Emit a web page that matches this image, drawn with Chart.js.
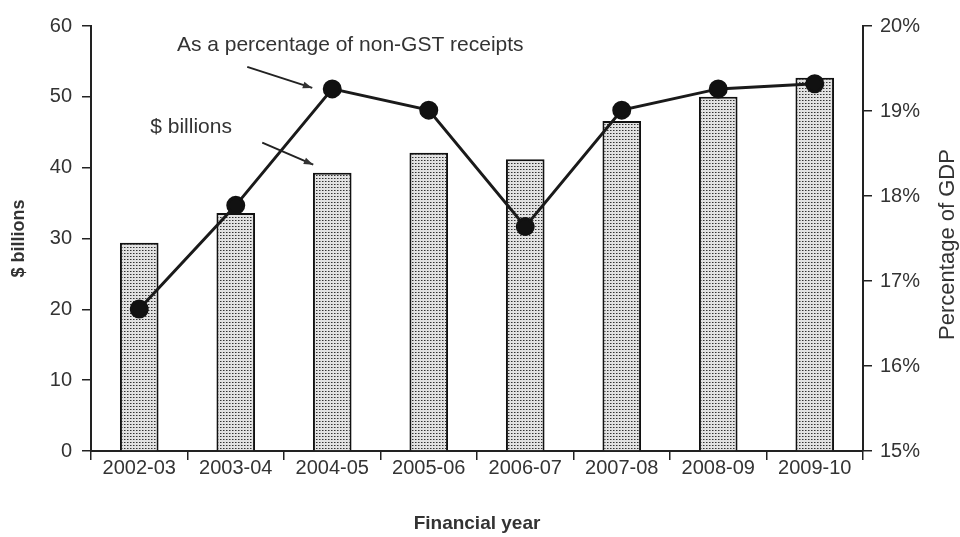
<!DOCTYPE html>
<html>
<head>
<meta charset="utf-8">
<script src="https://cdn.jsdelivr.net/npm/chart.js@4/dist/chart.umd.min.js"></script>
<style>
  html, body { margin: 0; padding: 0; background: #fff; }
  #wrap { width: 960px; height: 537px; }
</style>
</head>
<body>
<div id="wrap"><canvas id="chart" width="960" height="537"></canvas></div>
<script>
const years = ["2002-03", "2003-04", "2004-05", "2005-06", "2006-07", "2007-08", "2008-09", "2009-10"];
const billions = [29.4, 33.6, 39.3, 42.1, 41.2, 46.6, 50.0, 52.7];
const pctOfReceipts = [16.67, 17.89, 19.26, 19.01, 17.64, 19.01, 19.26, 19.32];
const leftTicks = [0, 10, 20, 30, 40, 50, 60];
const rightTicks = [15, 16, 17, 18, 19, 20];

const FONT = "'Liberation Sans', Arial, sans-serif";
const TEXT = "#333";

// speckled fill like the printed bars
function dotPattern() {
  const tile = document.createElement("canvas");
  tile.width = 3;
  tile.height = 3;
  const c = tile.getContext("2d");
  c.fillStyle = "#e2e2e2";
  c.fillRect(0, 0, 3, 3);
  c.fillStyle = "#333";
  c.fillRect(1, 1, 1, 1);
  c.fillStyle = "#8a8a8a";
  c.fillRect(2, 1, 1, 1);
  return document.getElementById("chart").getContext("2d").createPattern(tile, "repeat");
}

function arrow(ctx, x1, y1, x2, y2) {
  const a = Math.atan2(y2 - y1, x2 - x1);
  ctx.beginPath();
  ctx.moveTo(x1, y1);
  ctx.lineTo(x2, y2);
  ctx.stroke();
  ctx.beginPath();
  ctx.moveTo(x2, y2);
  ctx.lineTo(x2 - 10 * Math.cos(a - 0.35), y2 - 10 * Math.sin(a - 0.35));
  ctx.lineTo(x2 - 10 * Math.cos(a + 0.35), y2 - 10 * Math.sin(a + 0.35));
  ctx.closePath();
  ctx.fill();
}

const notes = {
  id: "notes",
  afterDraw(chart) {
    const { ctx, scales } = chart;
    const x = scales.x;
    const yL = scales.yL;
    const yR = scales.yR;
    ctx.save();
    ctx.fillStyle = TEXT;
    ctx.strokeStyle = "#222";
    ctx.lineWidth = 2;
    ctx.font = "21px " + FONT;
    ctx.textBaseline = "middle";
    // line label, pointing at the 2004-05 point
    const px = x.getPixelForValue(2);
    const py = yR.getPixelForValue(pctOfReceipts[2]);
    ctx.textAlign = "center";
    ctx.fillText("As a percentage of non-GST receipts", px + 18, py - 44);
    arrow(ctx, px - 85, py - 22, px - 20, py - 1);
    // bar label, pointing at the 2004-05 bar
    const bx = x.getPixelForValue(2);
    const by = yL.getPixelForValue(billions[2]);
    ctx.textAlign = "left";
    ctx.fillText("$ billions", bx - 182, by - 45);
    arrow(ctx, bx - 70, by - 30, bx - 19, by - 8);
    // right axis title reads bottom-to-top in the original
    ctx.font = "22px " + FONT;
    ctx.translate(948, (yR.top + yR.bottom) / 2 + 6);
    ctx.rotate(-Math.PI / 2);
    ctx.textAlign = "center";
    ctx.fillText("Percentage of GDP", 0, 0);
    ctx.restore();
  },
};

const ticksFont = { family: FONT, size: 20 };

new Chart(document.getElementById("chart"), {
  data: {
    labels: years,
    datasets: [
      {
        type: "line",
        label: "As a percentage of non-GST receipts",
        data: pctOfReceipts,
        yAxisID: "yR",
        borderColor: "#1a1a1a",
        borderWidth: 3,
        pointRadius: 8,
        pointBackgroundColor: "#111",
        pointBorderColor: "#111",
        tension: 0,
        order: 0,
      },
      {
        type: "bar",
        label: "$ billions",
        data: billions,
        yAxisID: "yL",
        backgroundColor: dotPattern(),
        borderColor: "#111",
        borderWidth: 2,
        categoryPercentage: 1,
        barPercentage: 0.4,
        order: 1,
      },
    ],
  },
  options: {
    responsive: false,
    animation: false,
    layout: { padding: { top: 26, left: 0, right: 0, bottom: 0 } },
    plugins: { legend: { display: false }, tooltip: { enabled: false } },
    scales: {
      x: {
        offset: true,
        border: { color: "#222", width: 2 },
        grid: { offset: true, drawOnChartArea: false, color: "#222", tickLength: 9, lineWidth: 1.5 },
        ticks: { color: TEXT, font: ticksFont, padding: -4, maxRotation: 0 },
        title: { display: true, text: "Financial year", color: TEXT, font: { family: FONT, size: 19, weight: "bold" }, padding: { top: 0, bottom: 2 } },
        afterFit(s) { s.height = 86; },
      },
      yL: {
        position: "left",
        min: 0,
        max: 60,
        afterBuildTicks(s) { s.ticks = leftTicks.map((v) => ({ value: v })); },
        border: { color: "#222", width: 2 },
        grid: { drawOnChartArea: false, color: "#222", tickLength: 9, lineWidth: 1.5 },
        ticks: { color: TEXT, font: ticksFont, padding: 10 },
        title: { display: true, text: "$ billions", color: TEXT, font: { family: FONT, size: 18, weight: "bold" }, padding: { top: 8, bottom: 4 } },
        afterFit(s) { s.width = 91; },
      },
      yR: {
        position: "right",
        min: 15,
        max: 20,
        afterBuildTicks(s) { s.ticks = rightTicks.map((v) => ({ value: v })); },
        border: { color: "#222", width: 2 },
        grid: { drawOnChartArea: false, color: "#222", tickLength: 9, lineWidth: 1.5 },
        ticks: { color: TEXT, font: ticksFont, padding: 8, callback: (v) => v + "%" },
        afterFit(s) { s.width = 97; },
      },
    },
  },
  plugins: [notes],
});
</script>
</body>
</html>
